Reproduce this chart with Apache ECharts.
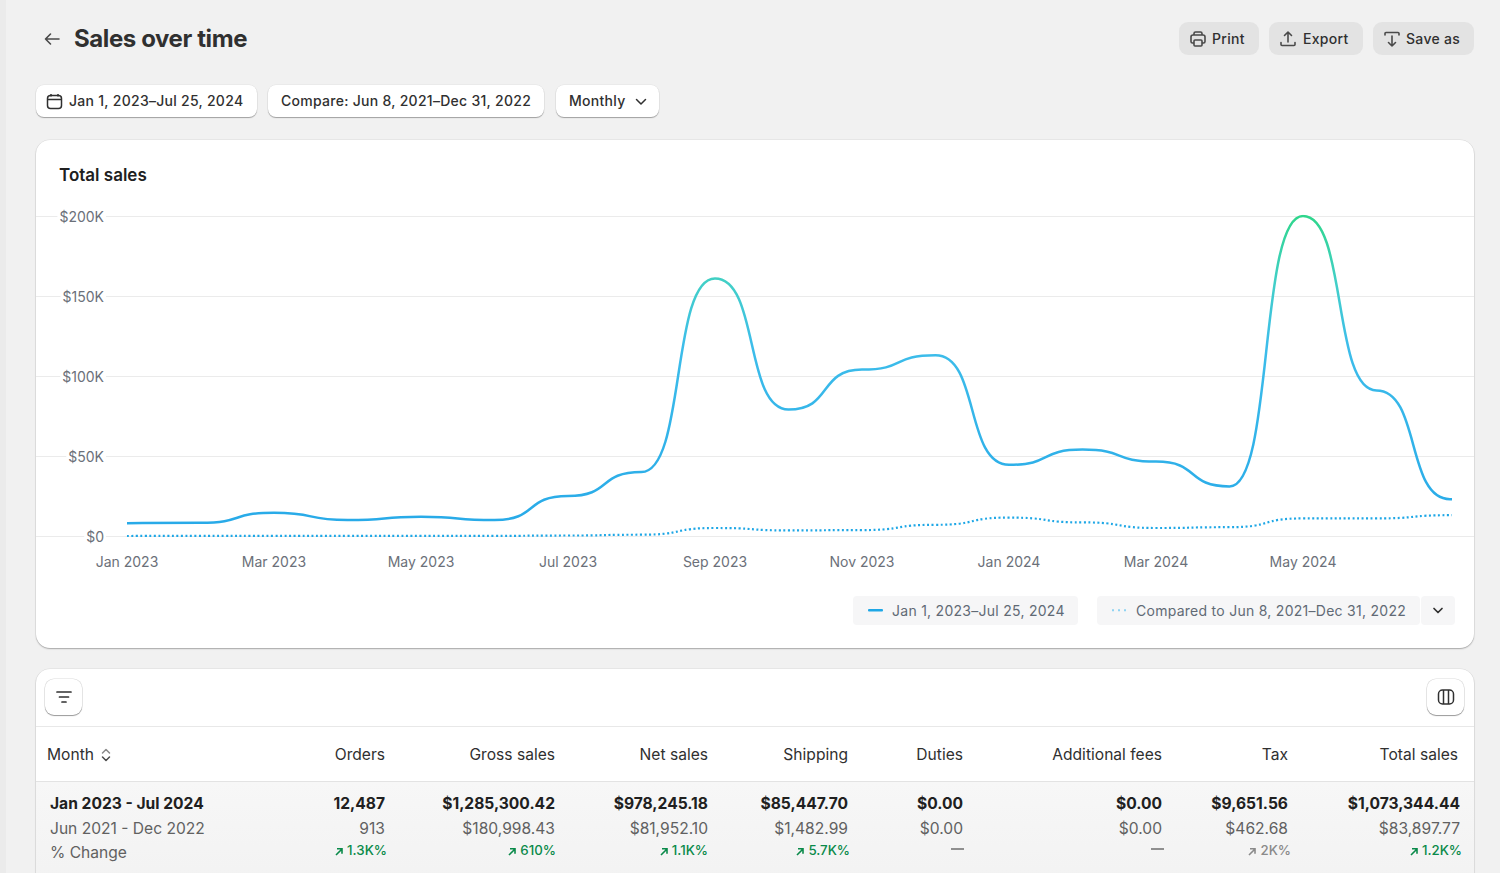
<!DOCTYPE html>
<html>
<head>
<meta charset="utf-8">
<title>Sales over time</title>
<script src="https://cdn.jsdelivr.net/npm/echarts@6/dist/echarts.min.js"></script>
<style>
html,body{margin:0;padding:0;width:1500px;height:873px;overflow:hidden;background:#f1f1f1;font-family:Inter,"Noto Sans",sans-serif;color:#303030}
.abs,.btn,.fbtn,.cell,.card,.pill{position:absolute}
.strip{position:absolute;left:0;top:0;width:6px;height:873px;background:#ebebeb}
.title{position:absolute;left:74px;top:24px;font-size:24px;line-height:30px;font-weight:650;letter-spacing:-.4px;color:#303030}
.btn{top:22px;height:33px;background:#e3e3e3;border-radius:9px;font-size:14px;font-weight:500;line-height:33px;color:#303030;letter-spacing:.3px}
.fbtn{top:85px;height:32px;background:#fff;border-radius:8px;box-shadow:0 1px 1px rgba(0,0,0,.32),0 0 0 .5px rgba(0,0,0,.06);font-size:14px;font-weight:500;line-height:32px;color:#303030;letter-spacing:.28px}
.btn span,.fbtn span{position:absolute;top:0;white-space:nowrap}
.card{background:#fff;border-radius:14px;box-shadow:0 1px 1.5px rgba(0,0,0,.28),0 0 0 .5px rgba(0,0,0,.08)}
#main{position:absolute;left:36px;top:140px;width:1438px;height:508px}
.pill{top:596px;height:29px;background:#f6f6f7;border-radius:4px;font-size:14px;line-height:29px;color:#616a75;letter-spacing:.27px}
.pill span{position:absolute;top:0;white-space:nowrap}
.cell{white-space:nowrap;font-size:15.6px;line-height:20px}
.iconbtn{position:absolute;top:679px;width:37px;height:36px;background:#fff;border-radius:9px;box-shadow:0 1px 1px rgba(0,0,0,.35),0 0 0 .5px rgba(0,0,0,.14)}
svg{display:block}
</style>
</head>
<body>
<div class="strip"></div>
<svg class="abs" style="left:42px;top:29px" width="20" height="20" viewBox="0 0 20 20" fill="none" stroke="#4a4a4a" stroke-width="1.6" stroke-linecap="round" stroke-linejoin="round"><path d="M17 10H3.5M8.5 5l-5 5 5 5"/></svg>
<div class="title">Sales over time</div>

<div class="btn" style="left:1179px;width:80px"><svg class="abs" style="left:10px;top:8px" width="18" height="18" viewBox="0 0 18 18" fill="none" stroke="#4a4a4a" stroke-width="1.6"><path d="M5 5V3.5A1.5 1.5 0 0 1 6.500 2h5A1.500 1.500 0 0 1 13 3.500V5M5 13H3.500A1.500 1.500 0 0 1 2 11.500V7a2 2 0 0 1 2-2h10a2 2 0 0 1 2 2v4.500A1.500 1.500 0 0 1 14.500 13H13"/><rect x="5" y="10" width="8" height="6" rx="1"/></svg><span style="left:33px">Print</span></div>
<div class="btn" style="left:1269px;width:94px"><svg class="abs" style="left:10px;top:8px" width="18" height="18" viewBox="0 0 18 18" fill="none" stroke="#4a4a4a" stroke-width="1.6" stroke-linecap="round" stroke-linejoin="round"><path d="M9 12V2M5.500 5.500 9 2l3.500 3.500M2 12.500v2a1 1 0 0 0 1 1h12a1 1 0 0 0 1-1v-2"/></svg><span style="left:34px">Export</span></div>
<div class="btn" style="left:1373px;width:101px"><svg class="abs" style="left:10px;top:8px" width="18" height="18" viewBox="0 0 18 18" fill="none" stroke="#4a4a4a" stroke-width="1.6" stroke-linecap="round" stroke-linejoin="round"><path d="M9 6v10M5.500 12.500 9 16l3.500-3.500M2 5V3.500a1 1 0 0 1 1-1h12a1 1 0 0 1 1 1V5"/></svg><span style="left:33px">Save as</span></div>

<div class="fbtn" style="left:36px;width:221px"><svg class="abs" style="left:10px;top:8px" width="17" height="17" viewBox="0 0 17 17" fill="none" stroke="#303030" stroke-width="1.500"><rect x="1.500" y="2.500" width="14" height="13" rx="3"/><path d="M1.500 6.500h14M5 1v2.500M12 1v2.500"/></svg><span style="left:33px">Jan 1, 2023–Jul 25, 2024</span></div>
<div class="fbtn" style="left:268px;width:276px"><span style="left:13px">Compare: Jun 8, 2021–Dec 31, 2022</span></div>
<div class="fbtn" style="left:556px;width:103px"><span style="left:13px">Monthly</span><svg class="abs" style="left:78px;top:11px" width="14" height="12" viewBox="0 0 14 12" fill="none" stroke="#303030" stroke-width="1.500" stroke-linecap="round" stroke-linejoin="round"><path d="M2.500 3.500 7 8l4.500-4.500"/></svg></div>

<div class="card" style="left:36px;top:140px;width:1438px;height:508px"></div>
<div class="abs" style="left:59px;top:164px;font-size:17px;line-height:22px;font-weight:600;color:#202020">Total sales</div>
<div id="main"></div>

<div class="pill" style="left:853px;width:225px"><svg class="abs" style="left:15px;top:13px" width="16" height="3"><rect width="15" height="2.500" rx="1" fill="#1ea7e6"/></svg><span id="leg1" style="left:39px"></span></div>
<div class="pill" style="left:1097px;width:323px"><svg class="abs" style="left:15px;top:13px" width="16" height="3"><path d="M0 1.250h15" stroke="#8fd3f2" stroke-width="2" stroke-dasharray="2 4"/></svg><span id="leg2" style="left:39px"></span></div>
<div class="pill" style="left:1421px;width:34px"><svg class="abs" style="left:10px;top:9px" width="14" height="12" viewBox="0 0 14 12" fill="none" stroke="#303030" stroke-width="1.700" stroke-linecap="round" stroke-linejoin="round"><path d="M3 3.500 7 7.500l4-4"/></svg></div>

<div class="card" style="left:36px;top:669px;width:1438px;height:240px;overflow:hidden" id="tableCard">
  <div class="abs" style="left:0;top:57px;width:1438px;height:1px;background:#e8e8e8"></div>
  <div class="abs" style="left:0;top:112px;width:1438px;height:130px;border-top:1px solid #e3e3e3;background:linear-gradient(#f7f7f7,#f1f1f1)"></div>
</div>
<div class="iconbtn" style="left:45px"><svg class="abs" style="left:10px;top:9px" width="18" height="18" viewBox="0 0 18 18" fill="none" stroke="#303030" stroke-width="1.700" stroke-linecap="round"><path d="M2 4h14M4.500 9h9M7 14h4"/></svg></div>
<div class="iconbtn" style="left:1427px"><svg class="abs" style="left:10px;top:9px" width="18" height="18" viewBox="0 0 18 18" fill="none" stroke="#303030" stroke-width="1.500"><rect x="1.500" y="2" width="15" height="14" rx="4"/><path d="M6.500 2v14M11.500 2v14"/></svg></div>
<div id="table"></div>
<svg class="abs" style="left:100px;top:747px" width="12" height="16" viewBox="0 0 12 16" fill="none" stroke-width="1.500" stroke-linecap="round" stroke-linejoin="round"><path d="M2.500 6 6 2.500 9.500 6" stroke="#8a8a8a"/><path d="M2.500 10 6 13.500 9.500 10" stroke="#4a4a4a"/></svg>

<script>
// chart data, monthly totals in dollars
var months=['Jan 2023','Feb 2023','Mar 2023','Apr 2023','May 2023','Jun 2023','Jul 2023','Aug 2023','Sep 2023','Oct 2023','Nov 2023','Dec 2023','Jan 2024','Feb 2024','Mar 2024','Apr 2024','May 2024','Jun 2024','Jul 2024'];
var currentSales=[8000,8300,14500,10000,12000,10000,25000,40000,161000,79000,104000,113000,44500,54000,46500,31000,200000,91000,23000];
var compareSales=[0,100,100,100,100,100,300,800,5000,3500,3700,7000,11500,8500,5000,5500,11000,11000,13000];
var currentName='Jan 1, 2023–Jul 25, 2024';
var compareName='Compared to Jun 8, 2021–Dec 31, 2022';
var yTicks={min:0,max:200000,step:50000};

// table under the chart
var columns=['Orders','Gross sales','Net sales','Shipping','Duties','Additional fees','Tax','Total sales'];
var rowCurrent=['12,487','$1,285,300.42','$978,245.18','$85,447.70','$0.00','$0.00','$9,651.56','$1,073,344.44'];
var rowCompare=['913','$180,998.43','$81,952.10','$1,482.99','$0.00','$0.00','$462.68','$83,897.77'];
var rowChange=['1.3K%','610%','1.1K%','5.7K%','—','—','2K%','1.2K%'];
var changeColor=['#0a8a4a','#0a8a4a','#0a8a4a','#0a8a4a','#8a8a8a','#8a8a8a','#8a8a8a','#0a8a4a'];
var headRight=[1500-385,1500-555,1500-708,1500-848,1500-963,1500-1162,1500-1288,1500-1458];
var valueRight=[1500-385,1500-555,1500-708,1500-848,1500-963,1500-1162,1500-1288,1500-1460];
var changeRight=[1500-387,1500-556,1500-708,1500-850,1500-963,1500-1163,1500-1291,1500-1462];

document.getElementById('leg1').textContent=currentName;
document.getElementById('leg2').textContent=compareName;

function addCell(html,style){
	var d=document.createElement('div');
	d.className='cell';
	d.style.cssText=style;
	d.innerHTML=html;
	document.getElementById('table').appendChild(d);
}
addCell('Month','left:47px;top:745px;color:#303030');
addCell('Jan 2023 - Jul 2024','left:50px;top:794px;font-weight:650;color:#202020');
addCell('Jun 2021 - Dec 2022','left:50px;top:819px;color:#616161');
addCell('% Change','left:50px;top:843px;color:#616161');
for(var i=0;i<columns.length;i++){
	addCell(columns[i],'right:'+headRight[i]+'px;top:745px;color:#303030');
	addCell(rowCurrent[i],'right:'+valueRight[i]+'px;top:794px;font-weight:650;color:#202020');
	addCell(rowCompare[i],'right:'+valueRight[i]+'px;top:819px;color:#616161');
	if(rowChange[i]=='—'){
		addCell('<div style="width:13px;height:2px;background:#8f8f8f;margin:9px 0 0"></div>','right:'+(changeRight[i]-1)+'px;top:839px');
	}else{
		var arrow='<svg style="display:inline-block;vertical-align:-1px;margin-right:4px" width="8" height="9" viewBox="0 0 8 9" fill="none" stroke="'+changeColor[i]+'" stroke-width="1.600"><path d="M1 8 6.500 2.500M2 1.800h5v5"/></svg>';
		addCell(arrow+rowChange[i],'right:'+changeRight[i]+'px;top:840px;font-size:13.3px;font-weight:500;color:'+changeColor[i]);
	}
}

// one spare slot past the axis end so the line arrives flat at the last month, it gets clipped away
function withTail(arr){
	return arr.concat([arr[arr.length-1]]);
}

var main_echart=echarts.init(document.getElementById('main'),null,{renderer:'svg'});
var fontName='Inter';
var main_option={
	animation:false,
	// first grid only carries the wide gridlines, second one holds the lines
	grid:[
		{left:0,right:0,top:76,bottom:112},
		{left:91,right:24,top:76,bottom:112}
	],
	xAxis:[
		{gridIndex:0,type:'value',show:false,min:0,max:1},
		{
			gridIndex:1,type:'category',boundaryGap:false,data:withTail(months),max:18,
			axisLine:{show:false},axisTick:{show:false},splitLine:{show:false},
			axisLabel:{
				color:'#6b7079',fontFamily:fontName,fontSize:14,margin:18,
				interval:function(idx){return idx%2==0&&idx<18;}
			}
		}
	],
	yAxis:[
		{
			gridIndex:0,type:'value',min:yTicks.min,max:yTicks.max,interval:yTicks.step,
			axisLine:{show:false},axisTick:{show:false},
			splitLine:{lineStyle:{color:'#ebebeb',width:1}},
			z:3,
			axisLabel:{
				color:'#6b7079',fontFamily:fontName,fontSize:14,margin:-70,
				backgroundColor:'#fff',padding:[0,2,2,2],
				formatter:function(v){return v==0?'$0':'$'+(v/1000)+'K';}
			}
		},
		{gridIndex:1,type:'value',show:false,min:yTicks.min,max:yTicks.max,interval:yTicks.step}
	],
	series:[
		{
			name:compareName,type:'line',xAxisIndex:1,yAxisIndex:1,data:withTail(compareSales),
			smooth:0.6,smoothMonotone:'x',symbol:'none',z:4,
			lineStyle:{color:'#1ea7e6',width:2.2,type:[2,2.5]}
		},
		{
			name:currentName,type:'line',xAxisIndex:1,yAxisIndex:1,data:withTail(currentSales),
			smooth:0.6,smoothMonotone:'x',symbol:'none',z:5,
			lineStyle:{
				width:2.5,
				color:{type:'linear',x:0,y:0,x2:0,y2:1,colorStops:[
					{offset:0,color:'#2fd68c'},
					{offset:0.22,color:'#42cfc8'},
					{offset:0.42,color:'#3dbdea'},
					{offset:1,color:'#28aae8'}
				]}
			}
		}
	]
};
main_echart.setOption(main_option);
</script>
</body>
</html>
